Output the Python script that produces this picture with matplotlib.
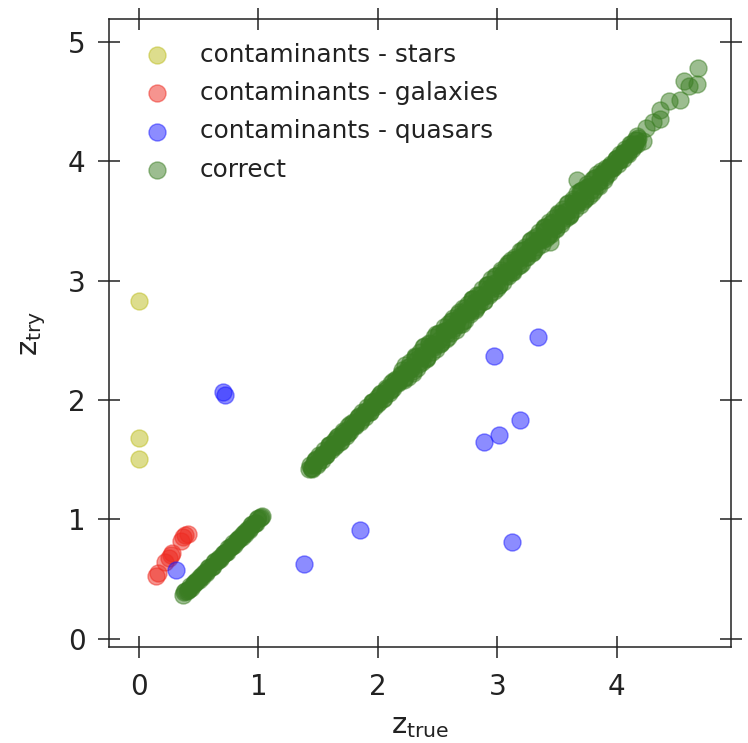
import matplotlib
matplotlib.use("Agg")
import matplotlib.pyplot as plt

# --- data ---
stars_true = [0.00, 0.00, 0.00]
stars_try = [2.83, 1.68, 1.51]

gal_true = [0.14, 0.16, 0.22, 0.25, 0.27, 0.28, 0.35, 0.37, 0.39, 0.41]
gal_try = [0.53, 0.55, 0.64, 0.68, 0.70, 0.72, 0.82, 0.85, 0.87, 0.88]

qso_true = [0.31, 0.70, 0.72, 1.38, 1.85, 2.89, 2.97, 3.01, 3.19, 3.12, 3.34]
qso_try = [0.58, 2.07, 2.04, 0.63, 0.91, 1.65, 2.37, 1.71, 1.83, 0.81, 2.53]

# correct redshifts: low-z strip
corr_low_true = [
    0.37, 0.39, 0.41, 0.43, 0.45, 0.47, 0.49, 0.51, 0.53, 0.55, 0.57, 0.59,
    0.61, 0.63, 0.65, 0.67, 0.69, 0.71, 0.73, 0.75, 0.77, 0.79, 0.81, 0.83,
    0.85, 0.87, 0.89, 0.91, 0.93, 0.95, 0.97, 0.99, 1.01, 1.03,
    0.38, 0.40, 0.42, 0.44, 0.46, 0.48, 0.50, 0.52, 0.54, 0.56, 0.58, 0.60,
    0.62, 0.64, 0.66, 0.68, 0.70, 0.72, 0.74, 0.76, 0.78, 0.80, 0.82, 0.84,
    0.86, 0.88, 0.90, 0.92, 0.94, 0.96, 0.98, 1.00, 1.02,
]
corr_low_try = [
    0.37, 0.40, 0.41, 0.44, 0.45, 0.48, 0.49, 0.52, 0.52, 0.56, 0.57, 0.60,
    0.60, 0.64, 0.65, 0.68, 0.69, 0.72, 0.73, 0.76, 0.77, 0.80, 0.81, 0.84,
    0.85, 0.88, 0.88, 0.92, 0.93, 0.96, 0.97, 1.00, 1.01, 1.03,
    0.39, 0.40, 0.42, 0.43, 0.47, 0.48, 0.49, 0.53, 0.54, 0.55, 0.59, 0.60,
    0.61, 0.65, 0.66, 0.67, 0.71, 0.72, 0.73, 0.77, 0.78, 0.79, 0.83, 0.84,
    0.85, 0.89, 0.90, 0.91, 0.95, 0.96, 0.97, 1.01, 1.02,
]

# correct redshifts: high-z strip, first row
corr_hi_a_true = [
    1.42, 1.45, 1.48, 1.51, 1.54, 1.57, 1.60, 1.63, 1.66, 1.69, 1.72, 1.75,
    1.78, 1.81, 1.84, 1.87, 1.90, 1.93, 1.96, 1.99, 2.02, 2.05, 2.08, 2.11,
    2.14, 2.17, 2.20, 2.23, 2.26, 2.29, 2.32, 2.35, 2.38, 2.41, 2.44, 2.47,
    2.50, 2.53, 2.56, 2.59, 2.62, 2.65, 2.68, 2.71, 2.74, 2.77, 2.80, 2.83,
    2.86, 2.89, 2.92, 2.95, 2.98, 3.01, 3.04, 3.07, 3.10, 3.13, 3.16, 3.19,
    3.22, 3.25, 3.28, 3.31, 3.34, 3.37, 3.40, 3.43, 3.46, 3.49, 3.52, 3.55,
    3.58, 3.61, 3.64, 3.67, 3.70, 3.73, 3.76, 3.79, 3.82, 3.85, 3.88, 3.91,
    3.94, 3.97, 4.00, 4.03, 4.06, 4.09, 4.12, 4.15, 4.18,
]
corr_hi_a_try = [
    1.42, 1.43, 1.51, 1.50, 1.55, 1.54, 1.62, 1.61, 1.69, 1.68, 1.73, 1.72,
    1.80, 1.79, 1.87, 1.86, 1.91, 1.90, 1.98, 1.97, 2.05, 2.04, 2.09, 2.08,
    2.16, 2.15, 2.25, 2.19, 2.28, 2.23, 2.36, 2.33, 2.44, 2.36, 2.45, 2.44,
    2.55, 2.49, 2.58, 2.53, 2.66, 2.63, 2.74, 2.66, 2.75, 2.74, 2.85, 2.79,
    2.88, 2.83, 2.96, 2.93, 3.04, 2.96, 3.05, 3.04, 3.15, 3.09, 3.18, 3.13,
    3.26, 3.23, 3.34, 3.26, 3.35, 3.34, 3.45, 3.39, 3.48, 3.43, 3.56, 3.53,
    3.64, 3.56, 3.65, 3.64, 3.75, 3.69, 3.78, 3.73, 3.86, 3.83, 3.91, 3.88,
    3.96, 3.95, 4.03, 4.01, 4.08, 4.08, 4.14, 4.14, 4.19,
]

# correct redshifts: high-z strip, second row
corr_hi_b_true = [
    1.44, 1.47, 1.50, 1.53, 1.56, 1.59, 1.62, 1.65, 1.68, 1.71, 1.74, 1.77,
    1.80, 1.83, 1.86, 1.89, 1.92, 1.95, 1.98, 2.01, 2.04, 2.07, 2.10, 2.13,
    2.16, 2.19, 2.22, 2.25, 2.28, 2.31, 2.34, 2.37, 2.40, 2.43, 2.46, 2.49,
    2.52, 2.55, 2.58, 2.61, 2.64, 2.67, 2.70, 2.73, 2.76, 2.79, 2.82, 2.85,
    2.88, 2.91, 2.94, 2.97, 3.00, 3.03, 3.06, 3.09, 3.12, 3.15, 3.18, 3.21,
    3.24, 3.27, 3.30, 3.33, 3.36, 3.39, 3.42, 3.45, 3.48, 3.51, 3.54, 3.57,
    3.60, 3.63, 3.66, 3.69, 3.72, 3.75, 3.78, 3.81, 3.84, 3.87, 3.90, 3.93,
    3.96, 3.99, 4.02, 4.05, 4.08, 4.11, 4.14, 4.17,
]
corr_hi_b_try = [
    1.43, 1.49, 1.47, 1.54, 1.54, 1.62, 1.61, 1.67, 1.65, 1.72, 1.72, 1.80,
    1.79, 1.85, 1.83, 1.90, 1.90, 1.98, 1.97, 2.03, 2.01, 2.08, 2.08, 2.16,
    2.15, 2.21, 2.17, 2.28, 2.26, 2.36, 2.30, 2.38, 2.34, 2.47, 2.45, 2.55,
    2.47, 2.58, 2.56, 2.66, 2.60, 2.68, 2.64, 2.77, 2.75, 2.85, 2.77, 2.88,
    2.86, 2.96, 2.90, 2.98, 2.94, 3.07, 3.05, 3.15, 3.07, 3.18, 3.16, 3.26,
    3.20, 3.28, 3.24, 3.37, 3.35, 3.45, 3.37, 3.48, 3.46, 3.56, 3.50, 3.58,
    3.54, 3.67, 3.65, 3.75, 3.67, 3.78, 3.76, 3.86, 3.80, 3.88, 3.87, 3.95,
    3.94, 4.02, 4.01, 4.07, 4.06, 4.12, 4.13, 4.18,
]

# correct redshifts: high-z strip, centre row
corr_hi_c_true = [
    1.46, 1.52, 1.58, 1.64, 1.70, 1.76, 1.82, 1.88, 1.94, 2.00, 2.06, 2.12,
    2.18, 2.21, 2.27, 2.33, 2.39, 2.45, 2.51, 2.57, 2.63, 2.69, 2.75, 2.81,
    2.87, 2.93, 2.99, 3.05, 3.11, 3.17, 3.23, 3.29, 3.35, 3.41, 3.47, 3.53,
    3.59, 3.65, 3.71, 3.77, 3.83, 3.89, 3.95, 4.01, 4.07, 4.13,
]
corr_hi_c_try = [
    1.46, 1.52, 1.58, 1.64, 1.70, 1.76, 1.82, 1.88, 1.94, 2.00, 2.06, 2.12,
    2.18, 2.22, 2.26, 2.34, 2.38, 2.46, 2.50, 2.58, 2.62, 2.70, 2.74, 2.82,
    2.86, 2.94, 2.98, 3.06, 3.10, 3.18, 3.22, 3.30, 3.34, 3.42, 3.46, 3.54,
    3.58, 3.66, 3.70, 3.78, 3.82, 3.90, 3.95, 4.01, 4.07, 4.13,
]

# correct redshifts: high-z strip, upper edge
corr_hi_d_true = [
    1.43, 1.47, 1.51, 1.55, 1.59, 1.63, 1.67, 1.71, 1.75, 1.79, 1.83, 1.87,
    1.91, 1.95, 1.99, 2.03, 2.07, 2.11, 2.15, 2.19,
    2.23, 2.27, 2.31, 2.35, 2.39, 2.43, 2.47, 2.51, 2.55, 2.59, 2.63, 2.67,
    2.71, 2.75, 2.79, 2.83, 2.87, 2.91, 2.95, 2.99, 3.03, 3.07, 3.11, 3.15,
    3.19, 3.23, 3.27, 3.31, 3.35, 3.39, 3.43, 3.47, 3.51, 3.55, 3.59, 3.63,
    3.67, 3.71, 3.75, 3.79, 3.83, 3.87,
    3.91, 3.95, 3.99, 4.03, 4.07, 4.11, 4.15,
]
corr_hi_d_try = [
    1.46, 1.50, 1.54, 1.58, 1.62, 1.66, 1.70, 1.74, 1.78, 1.82, 1.86, 1.90,
    1.94, 1.98, 2.02, 2.06, 2.10, 2.14, 2.18, 2.22,
    2.29, 2.32, 2.37, 2.40, 2.45, 2.48, 2.53, 2.56, 2.61, 2.64, 2.69, 2.72,
    2.77, 2.80, 2.85, 2.88, 2.93, 2.96, 3.01, 3.04, 3.09, 3.12, 3.17, 3.20,
    3.25, 3.28, 3.33, 3.36, 3.41, 3.44, 3.49, 3.52, 3.57, 3.60, 3.65, 3.68,
    3.73, 3.76, 3.81, 3.84, 3.89, 3.92,
    3.94, 3.98, 4.02, 4.06, 4.10, 4.14, 4.18,
]

# correct redshifts: high-z strip, lower edge
corr_hi_e_true = [
    1.45, 1.49, 1.53, 1.57, 1.61, 1.65, 1.69, 1.73, 1.77, 1.81, 1.85, 1.89,
    1.93, 1.97, 2.01, 2.05, 2.09, 2.13, 2.17, 2.21,
    2.25, 2.29, 2.33, 2.37, 2.41, 2.45, 2.49, 2.53, 2.57, 2.61, 2.65, 2.69,
    2.73, 2.77, 2.81, 2.85, 2.89, 2.93, 2.97, 3.01, 3.05, 3.09, 3.13, 3.17,
    3.21, 3.25, 3.29, 3.33, 3.37, 3.41, 3.45, 3.49, 3.53, 3.57, 3.61, 3.65,
    3.69, 3.73, 3.77, 3.81, 3.85, 3.89,
    3.93, 3.97, 4.01, 4.05, 4.09, 4.13, 4.17,
]
corr_hi_e_try = [
    1.42, 1.46, 1.50, 1.54, 1.58, 1.62, 1.66, 1.70, 1.74, 1.78, 1.82, 1.86,
    1.90, 1.94, 1.98, 2.02, 2.06, 2.10, 2.14, 2.18,
    2.19, 2.24, 2.27, 2.32, 2.35, 2.40, 2.43, 2.48, 2.51, 2.56, 2.59, 2.64,
    2.67, 2.72, 2.75, 2.80, 2.83, 2.88, 2.91, 2.96, 2.99, 3.04, 3.07, 3.12,
    3.15, 3.20, 3.23, 3.28, 3.31, 3.36, 3.39, 3.44, 3.47, 3.52, 3.55, 3.60,
    3.63, 3.68, 3.71, 3.76, 3.79, 3.84,
    3.90, 3.94, 3.98, 4.02, 4.06, 4.10, 4.14,
]

# correct redshifts: sparse high-z tail and stragglers
corr_tail_true = [4.17, 4.22, 4.24, 4.30, 4.36, 4.36, 4.44, 4.53, 4.56,
                  4.60, 4.67, 4.68, 3.67, 3.44]
corr_tail_try = [4.21, 4.17, 4.28, 4.33, 4.35, 4.43, 4.50, 4.51, 4.67,
                 4.63, 4.65, 4.78, 3.84, 3.32]

corr_true = (corr_low_true + corr_hi_a_true + corr_hi_b_true + corr_hi_c_true
             + corr_hi_d_true + corr_hi_e_true + corr_tail_true)
corr_try = (corr_low_try + corr_hi_a_try + corr_hi_b_try + corr_hi_c_try
            + corr_hi_d_try + corr_hi_e_try + corr_tail_try)

labels = ["contaminants - stars", "contaminants - galaxies",
          "contaminants - quasars", "correct"]
colors = ["#bcbc1c", "#ee2a20", "#1a1aff", "#3a7d22"]

fig = plt.figure(figsize=(7.48, 7.43), dpi=100)
ax = fig.add_axes([0.1457, 0.1296, 0.8316, 0.8448])

series = [(stars_true, stars_try), (gal_true, gal_try),
          (qso_true, qso_try), (corr_true, corr_try)]
for (xs, ys), lab, col in zip(series, labels, colors):
    ax.scatter(xs, ys, s=150, c=col, alpha=0.5, label=lab)

ax.set_xlim(-0.25, 4.955)
ax.set_ylim(-0.065, 5.19)
ax.set_xticks([0, 1, 2, 3, 4])
ax.set_yticks([0, 1, 2, 3, 4, 5])

ax.tick_params(axis="both", which="major", direction="inout", length=15.6,
               width=1.1, labelsize=20, top=True, right=True, color="#222222",
               labelcolor="#222222")
ax.tick_params(axis="x", pad=11)
ax.tick_params(axis="y", pad=9)
for sp in ax.spines.values():
    sp.set_linewidth(1.1)
    sp.set_color("#222222")

ax.set_xlabel(r"$\mathregular{z_{true}}$", fontsize=21, labelpad=8,
              color="#222222")
ax.set_ylabel(r"$\mathregular{z_{try}}$", fontsize=21, labelpad=14,
              color="#222222")

leg = ax.legend(loc="upper left", frameon=False, fontsize=17.8, scatterpoints=1,
                handletextpad=0.72, labelspacing=0.58, borderaxespad=0.55)
for t in leg.get_texts():
    t.set_color("#222222")

fig.savefig("out.png", dpi=100)
